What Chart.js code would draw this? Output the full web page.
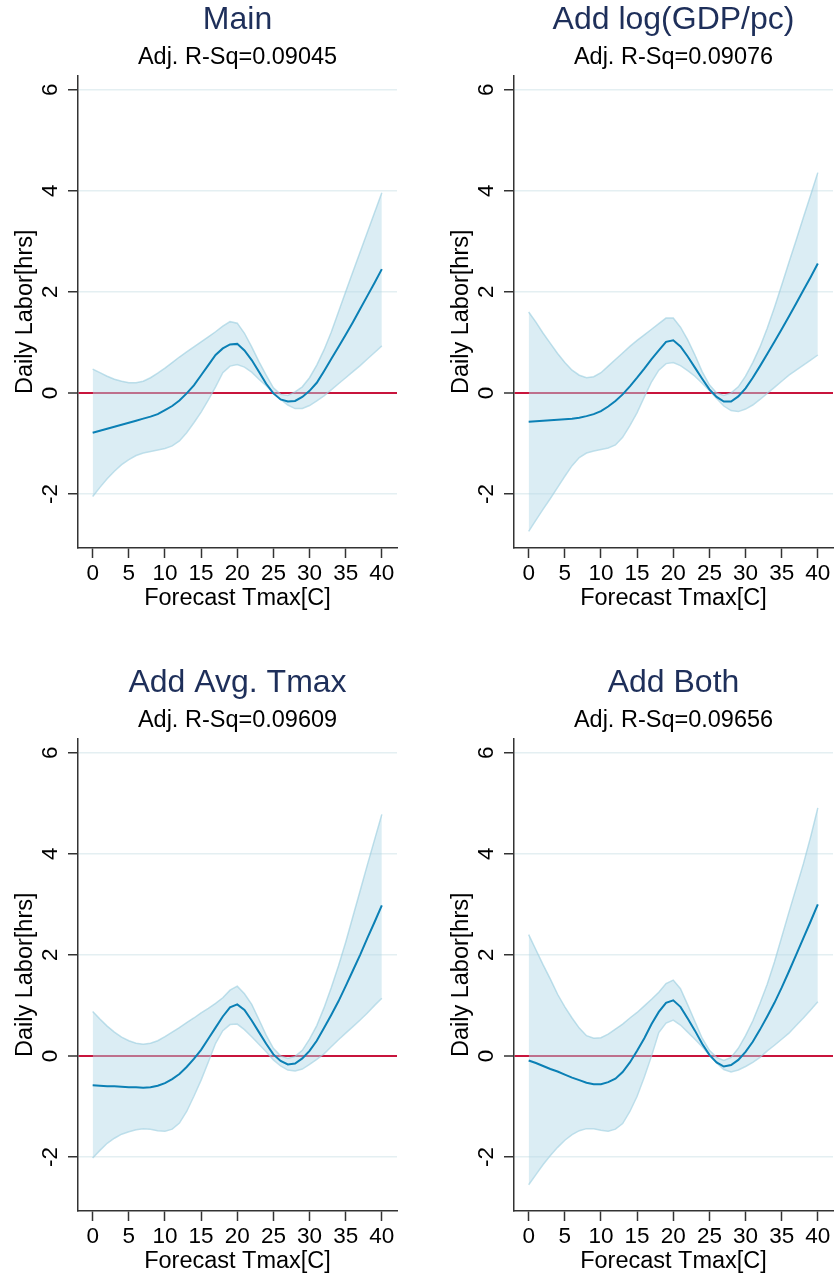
<!DOCTYPE html>
<html>
<head>
<meta charset="UTF-8">
<title>Daily Labor vs Forecast Tmax</title>
<style>
  body { margin: 0; background: #fff; }
  .grid { position: relative; width: 835px; height: 1277px; overflow: hidden; }
  .panel { position: absolute; width: 400px; height: 614px; }
</style>
<script src="https://cdn.jsdelivr.net/npm/chart.js"></script>
</head>
<body>
<div class="grid">
  <div class="panel" style="left:0;top:0"><canvas id="c0" width="400" height="614"></canvas></div>
  <div class="panel" style="left:436px;top:0"><canvas id="c1" width="400" height="614"></canvas></div>
  <div class="panel" style="left:0;top:663px"><canvas id="c2" width="400" height="614"></canvas></div>
  <div class="panel" style="left:436px;top:663px"><canvas id="c3" width="400" height="614"></canvas></div>
</div>

<script>
// forecast Tmax grid (C)
const tmax = [0,1,2,3,4,5,6,7,8,9,10,11,12,13,14,15,16,17,18,19,20,
              21,22,23,24,25,26,27,28,29,30,31,32,33,34,35,36,37,38,39,40];
const xTicks = [0,5,10,15,20,25,30,35,40];
const yTicks = [-2,0,2,4,6];

const titles = ['Main', 'Add log(GDP/pc)', 'Add Avg. Tmax', 'Add Both'];
const subtitles = ['Adj. R-Sq=0.09045', 'Adj. R-Sq=0.09076', 'Adj. R-Sq=0.09609', 'Adj. R-Sq=0.09656'];

// Main
const mainFit = [-0.79,-0.75,-0.71,-0.67,-0.63,-0.59,-0.55,-0.51,-0.47,-0.42,-0.34,-0.26,-0.15,-0.01,0.15,0.35,0.55,0.75,0.88,0.96,0.97,
                 0.84,0.65,0.42,0.18,-0.01,-0.13,-0.17,-0.16,-0.08,0.04,0.2,0.43,0.67,0.91,1.15,1.4,1.66,1.92,2.18,2.45];
const mainHi  = [0.47,0.40,0.33,0.27,0.23,0.2,0.2,0.23,0.3,0.39,0.49,0.6,0.71,0.81,0.91,1.01,1.11,1.21,1.32,1.41,1.38,
                 1.18,0.91,0.62,0.35,0.1,-0.03,-0.05,0.02,0.12,0.3,0.55,0.85,1.2,1.6,2.0,2.4,2.79,3.18,3.57,3.96];
const mainLo  = [-2.05,-1.87,-1.70,-1.55,-1.42,-1.32,-1.24,-1.19,-1.16,-1.13,-1.10,-1.05,-0.95,-0.79,-0.59,-0.38,-0.14,0.12,0.4,0.53,0.56,
                 0.51,0.41,0.27,0.14,0.0,-0.13,-0.24,-0.31,-0.31,-0.25,-0.16,-0.06,0.06,0.18,0.3,0.42,0.54,0.67,0.8,0.93];

// Add log(GDP/pc)
const gdpFit = [-0.57,-0.56,-0.55,-0.54,-0.53,-0.52,-0.51,-0.49,-0.46,-0.42,-0.36,-0.27,-0.16,-0.03,0.13,0.3,0.48,0.67,0.84,1.01,1.04,
                0.92,0.72,0.5,0.28,0.07,-0.08,-0.17,-0.17,-0.07,0.09,0.3,0.53,0.77,1.01,1.26,1.51,1.77,2.03,2.29,2.56];
const gdpHi  = [1.6,1.4,1.18,0.98,0.78,0.6,0.45,0.35,0.3,0.32,0.4,0.53,0.66,0.79,0.92,1.04,1.15,1.26,1.37,1.48,1.48,
                1.3,1.05,0.75,0.42,0.16,0.0,-0.05,0.0,0.12,0.33,0.6,0.91,1.28,1.69,2.13,2.58,3.02,3.47,3.91,4.36];
const gdpLo  = [-2.74,-2.52,-2.3,-2.09,-1.87,-1.65,-1.44,-1.28,-1.19,-1.15,-1.12,-1.09,-1.03,-0.88,-0.65,-0.39,-0.08,0.22,0.45,0.58,0.6,
                0.54,0.44,0.33,0.19,0.05,-0.11,-0.26,-0.35,-0.37,-0.32,-0.24,-0.13,-0.01,0.11,0.23,0.35,0.45,0.55,0.65,0.75];

// Add Avg. Tmax
const avgFit = [-0.58,-0.59,-0.6,-0.6,-0.61,-0.62,-0.62,-0.63,-0.62,-0.59,-0.54,-0.46,-0.36,-0.22,-0.06,0.12,0.34,0.56,0.78,0.96,1.02,
                0.91,0.7,0.47,0.24,0.03,-0.1,-0.17,-0.15,-0.05,0.1,0.3,0.55,0.81,1.08,1.38,1.69,2.0,2.33,2.65,2.98];
const avgHi  = [0.88,0.73,0.59,0.47,0.37,0.3,0.25,0.23,0.25,0.3,0.38,0.47,0.56,0.66,0.75,0.85,0.94,1.04,1.15,1.3,1.38,
                1.23,1.02,0.72,0.41,0.15,0.0,-0.05,-0.01,0.11,0.33,0.6,0.95,1.35,1.78,2.25,2.76,3.27,3.78,4.28,4.78];
const avgLo  = [-2.02,-1.87,-1.73,-1.63,-1.55,-1.5,-1.46,-1.44,-1.45,-1.48,-1.49,-1.45,-1.33,-1.1,-0.8,-0.48,-0.12,0.25,0.5,0.62,0.63,
                0.52,0.38,0.23,0.08,-0.08,-0.2,-0.28,-0.3,-0.26,-0.17,-0.07,0.04,0.18,0.32,0.45,0.58,0.71,0.85,1.0,1.14];

// Add Both
const bothFit = [-0.09,-0.14,-0.2,-0.26,-0.31,-0.37,-0.43,-0.48,-0.53,-0.56,-0.56,-0.52,-0.45,-0.32,-0.13,0.1,0.35,0.63,0.87,1.05,1.1,
                 0.97,0.74,0.5,0.24,0.02,-0.13,-0.21,-0.18,-0.08,0.08,0.28,0.52,0.78,1.05,1.35,1.67,2.0,2.33,2.66,3.0];
const bothHi  = [2.4,2.1,1.8,1.52,1.22,0.97,0.75,0.55,0.4,0.35,0.36,0.43,0.53,0.63,0.75,0.86,0.99,1.12,1.26,1.43,1.5,
                 1.33,1.01,0.68,0.35,0.11,-0.03,-0.09,-0.03,0.15,0.4,0.69,1.04,1.42,1.86,2.35,2.84,3.32,3.8,4.33,4.91];
const bothLo  = [-2.55,-2.35,-2.15,-1.97,-1.81,-1.67,-1.56,-1.48,-1.44,-1.44,-1.47,-1.49,-1.45,-1.34,-1.1,-0.8,-0.42,0.0,0.46,0.65,0.71,
                 0.61,0.47,0.33,0.18,0.02,-0.14,-0.27,-0.32,-0.28,-0.21,-0.13,-0.03,0.1,0.21,0.33,0.45,0.6,0.75,0.91,1.07];

const lineBlue = '#0b80b5';
const bandFill = 'rgba(179,217,232,0.47)';
const bandEdge = 'rgba(150,204,222,0.6)';
const zeroRed = '#c8143c';
const gridLight = '#e4eff2';
const axisColor = '#333';
const navy = '#1e2f5a';

Chart.defaults.font.family = "'Liberation Sans', Arial, Helvetica, sans-serif";

function toPoints(arr) {
  return arr.map((v, i) => ({ x: tmax[i], y: v }));
}

function makePanel(id, title, sub, fit, hi, lo) {
  new Chart(document.getElementById(id), {
    type: 'line',
    data: {
      datasets: [
        { data: toPoints(fit), borderColor: lineBlue, borderWidth: 2, pointRadius: 0, fill: false, tension: 0, order: 0 },
        { data: toPoints(hi), borderColor: bandEdge, borderWidth: 1.5, backgroundColor: bandFill, pointRadius: 0, fill: '+1', tension: 0, order: 1 },
        { data: toPoints(lo), borderColor: bandEdge, borderWidth: 1.5, pointRadius: 0, fill: false, tension: 0, order: 2 }
      ]
    },
    options: {
      responsive: false,
      animation: false,
      events: [],
      layout: { padding: { left: 0, right: 3, top: 0, bottom: 0 } },
      plugins: {
        legend: { display: false },
        tooltip: { enabled: false },
        title: {
          display: true, text: title, fullSize: false, color: navy,
          font: { size: 32, weight: 'normal' }, padding: { top: 1, bottom: 4 }
        },
        subtitle: {
          display: true, text: sub, fullSize: false, color: '#000',
          font: { size: 23.5 }, padding: { top: 0, bottom: 4 }
        }
      },
      scales: {
        x: {
          type: 'linear', min: -2.03, max: 42.1,
          afterBuildTicks: s => { s.ticks = xTicks.map(v => ({ value: v })); },
          afterFit: s => { s.height = 66; },
          grid: { drawOnChartArea: false, tickLength: 10, tickColor: axisColor, tickWidth: 1.5 },
          border: { display: true, color: axisColor, width: 1.5 },
          ticks: { color: '#000', font: { size: 22.5 }, padding: 2.5, autoSkip: false, maxRotation: 0 },
          title: { display: true, text: 'Forecast Tmax[C]', color: '#000', font: { size: 23.5 }, padding: { top: 0, bottom: 1 } }
        },
        y: {
          min: -3.07, max: 6.28,
          afterBuildTicks: s => { s.ticks = yTicks.map(v => ({ value: v })); },
          afterFit: s => { s.width = 78; },
          grid: {
            color: ctx => (ctx.tick && ctx.tick.value === 0) ? zeroRed : gridLight,
            lineWidth: ctx => (ctx.tick && ctx.tick.value === 0) ? 2 : 1.5,
            tickLength: 10, tickColor: axisColor, tickWidth: 1.5
          },
          border: { display: true, color: axisColor, width: 1.5 },
          ticks: { color: '#000', font: { size: 22.5 }, padding: 7, minRotation: 90, maxRotation: 90, crossAlign: 'center', autoSkip: false },
          title: { display: true, text: 'Daily Labor[hrs]', color: '#000', font: { size: 23.5 }, padding: { top: 11, bottom: 0 } }
        }
      }
    }
  });
}

makePanel('c0', titles[0], subtitles[0], mainFit, mainHi, mainLo);
makePanel('c1', titles[1], subtitles[1], gdpFit, gdpHi, gdpLo);
makePanel('c2', titles[2], subtitles[2], avgFit, avgHi, avgLo);
makePanel('c3', titles[3], subtitles[3], bothFit, bothHi, bothLo);
</script>
</body>
</html>
